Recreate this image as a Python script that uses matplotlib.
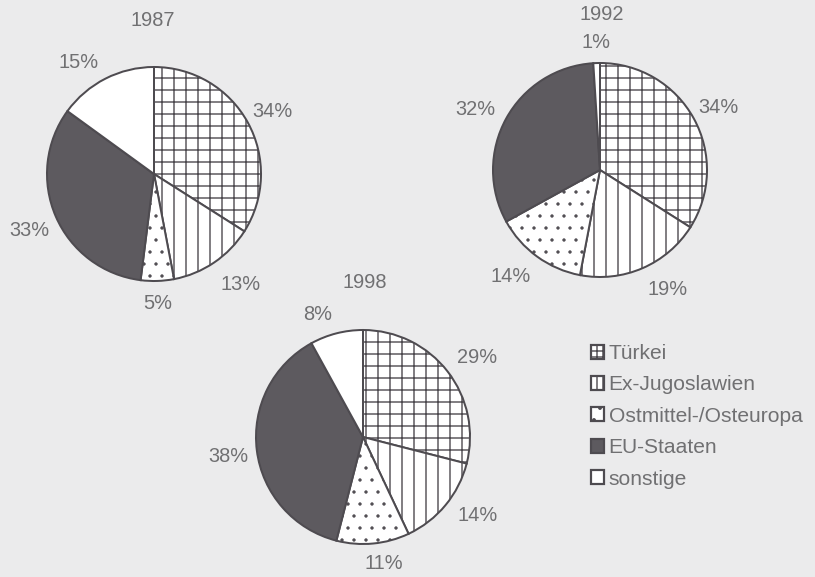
import numpy as np
import matplotlib.pyplot as plt
from matplotlib.patches import Patch

# Herkunft der Zuwanderer (Anteile in %)
categories = ["Türkei", "Ex-Jugoslawien", "Ostmittel-/Osteuropa", "EU-Staaten", "sonstige"]
years = ["1987", "1992", "1998"]
shares_1987 = [34, 13, 5, 33, 15]
shares_1992 = [34, 19, 14, 32, 1]
shares_1998 = [29, 14, 11, 38, 8]

# styling
W, H, DPI = 815, 577, 72
bg = "#ebebec"
edge = "#4e4b50"
dark = "#5d5a5f"
txt = "#707072"
FS = 20
plt.rcParams["font.family"] = ["Liberation Sans", "DejaVu Sans"]
plt.rcParams["hatch.linewidth"] = 1.4
plt.rcParams["hatch.color"] = edge

hatches = ["+", "|", ".", None, None]
legend_hatches = ["++", "||", ".", None, None]
fills = ["white", "white", "white", dark, "white"]

# layout (pixel positions in image coords, y downwards)
# label tweaks: angle shift (deg) and distance (x radius) per slice
pies = [
    dict(vals=shares_1987, center=(154, 174), title=(153, 20),
         shift=[-1, 4, 0, 1, 7], dist=[1.25, 1.31, 1.21, 1.28, 1.26]),
    dict(vals=shares_1992, center=(600, 170), title=(602, 15),
         shift=[-1, 6, -4, 3, 0], dist=[1.25, 1.28, 1.30, 1.29, 1.19]),
    dict(vals=shares_1998, center=(363, 437), title=(365, 282),
         shift=[-3, 5, 4, 1, 6], dist=[1.30, 1.30, 1.20, 1.27, 1.22]),
]
R = 107

fig = plt.figure(figsize=(W / DPI, H / DPI), dpi=DPI, facecolor=bg)
ax = fig.add_axes([0, 0, 1, 1])
ax.set_facecolor(bg)

for yr, p in zip(years, pies):
    cx, cy = p["center"][0], H - p["center"][1]
    wedges, _ = ax.pie(
        p["vals"],
        startangle=90,
        counterclock=False,
        colors=fills,
        hatch=hatches,
        center=(cx, cy),
        radius=R,
        wedgeprops={"edgecolor": edge, "linewidth": 2.0},
    )
    # dotted slice gets thinner hatch strokes where supported
    if hasattr(wedges[2], "set_hatch_linewidth"):
        wedges[2].set_hatch_linewidth(0.9)
    for w, v, s, d in zip(wedges, p["vals"], p["shift"], p["dist"]):
        ang = np.deg2rad((w.theta1 + w.theta2) / 2 + s)
        ax.text(cx + d * R * np.cos(ang), cy + d * R * np.sin(ang),
                f"{v}%", ha="center", va="center", fontsize=FS, color=txt)
    ax.text(p["title"][0], H - p["title"][1], yr, ha="center", va="center",
            fontsize=FS, color=txt)

handles = [Patch(facecolor=f, edgecolor=edge, hatch=h, linewidth=2.2)
           for f, h in zip(fills, legend_hatches)]
leg = ax.legend(handles, categories, loc="upper left", bbox_to_anchor=(591, H - 344),
                bbox_transform=ax.transData, frameon=False, borderpad=0,
                borderaxespad=0, handlelength=0.64, handleheight=0.64,
                handletextpad=0.2, labelspacing=0.59, fontsize=21, labelcolor=txt)

ax.set_xlim(0, W)
ax.set_ylim(0, H)
ax.set_aspect("equal")
ax.axis("off")

fig.savefig("out.png", dpi=DPI, facecolor=bg)
